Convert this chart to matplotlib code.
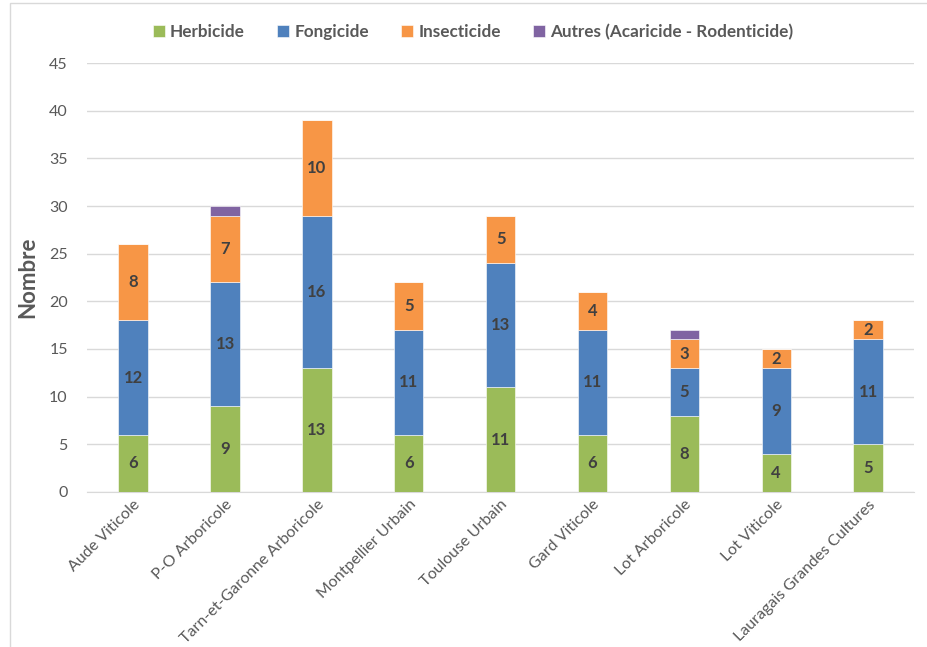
import numpy as np
import matplotlib.pyplot as plt
from matplotlib.patches import Rectangle

plt.rcParams['font.family'] = ['Lato', 'DejaVu Sans']

# Données par site
sites = ['Aude Viticole', 'P-O Arboricole', 'Tarn-et-Garonne Arboricole',
         'Montpellier Urbain', 'Toulouse Urbain', 'Gard Viticole',
         'Lot Arboricole', 'Lot Viticole', 'Lauragais Grandes Cultures']
herbicide = [6, 9, 13, 6, 11, 6, 8, 4, 5]
fongicide = [12, 13, 16, 11, 13, 11, 5, 9, 11]
insecticide = [8, 7, 10, 5, 5, 4, 3, 2, 2]
autres = [0, 1, 0, 0, 0, 0, 1, 0, 0]

series = [
    ('Herbicide', herbicide, '#9BBB59', True),
    ('Fongicide', fongicide, '#4F81BD', True),
    ('Insecticide', insecticide, '#F79646', True),
    ('Autres (Acaricide - Rodenticide)', autres, '#8064A2', False),
]

fig = plt.figure(figsize=(9.28, 6.47), dpi=100)
ax = fig.add_axes([0.094, 0.2396, 0.891, 0.663])

# cadre du graphique
fig.patches.append(Rectangle((0.011, -0.01), 1.0, 1.005, transform=fig.transFigure,
                             fill=False, edgecolor='#D9D9D9', linewidth=1.0))

x = np.arange(len(sites))
bas = np.zeros(len(sites))
for nom, vals, couleur, etiq in series:
    vals = np.array(vals, dtype=float)
    ax.bar(x, vals, 0.32, bottom=bas, color=couleur, label=nom,
           edgecolor='white', linewidth=0.4, zorder=3)
    if etiq:
        for xi, b, v in zip(x, bas, vals):
            if v > 0:
                ax.text(xi, b + v / 2, f'{int(v)}', ha='center', va='center',
                        fontsize=12, fontweight='bold', color='#404040', zorder=4)
    bas += vals

ax.set_xlim(-0.5, len(sites) - 0.5)
ax.set_ylim(0, 45)
ax.set_yticks(np.arange(0, 46, 5))
ax.yaxis.grid(True, color='#D9D9D9', linewidth=1.0, zorder=0)
for s in ax.spines.values():
    s.set_visible(False)
ax.spines['bottom'].set_visible(True)
ax.spines['bottom'].set_color('#D9D9D9')
ax.tick_params(axis='both', length=0, colors='#595959', labelsize=11.5)
ax.tick_params(axis='y', pad=14)
ax.tick_params(axis='x', pad=4)
ax.set_xticks(x)
ax.set_xticklabels(sites, rotation=45, ha='right', rotation_mode='anchor')
ax.set_ylabel('Nombre', fontsize=16, fontweight='bold', color='#595959', labelpad=8)

fig.legend(loc='center', bbox_to_anchor=(0.51, 0.951), ncol=4, frameon=False,
           handlelength=0.7, handleheight=0.7, handletextpad=0.3, columnspacing=1.9,
           prop={'size': 12.3, 'weight': 'bold'}, labelcolor='#595959')

fig.savefig('out.png', dpi=100)
